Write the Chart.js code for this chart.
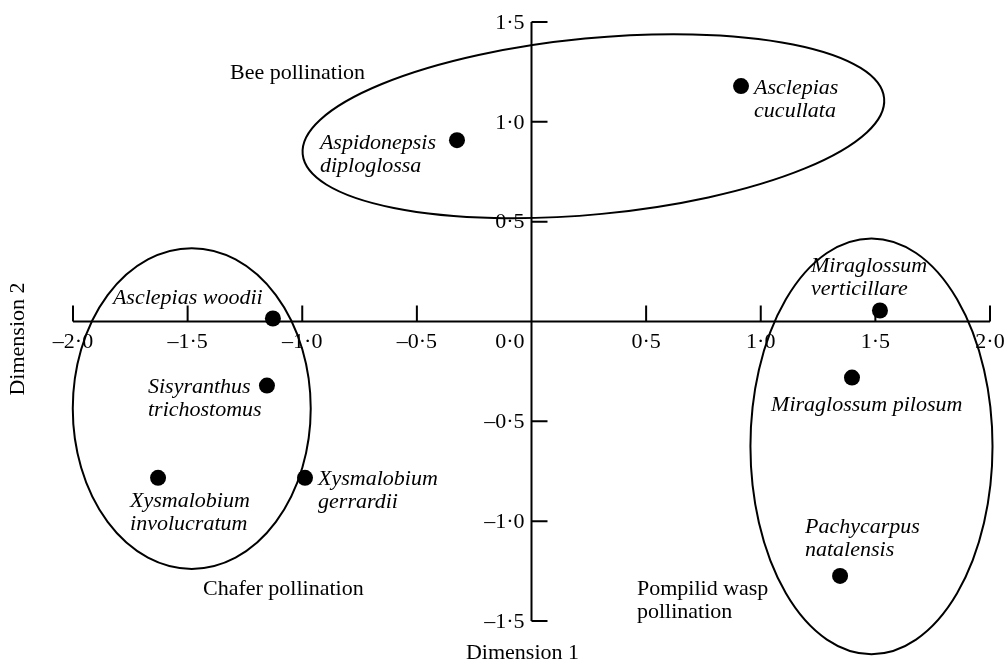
<!DOCTYPE html>
<html>
<head>
<meta charset="utf-8">
<script src="https://cdn.jsdelivr.net/npm/chart.js@4"></script>
<style>
  html, body { margin: 0; padding: 0; background: #fff; }
  #wrap { width: 1006px; height: 661px; }
</style>
</head>
<body>
<div id="wrap"><canvas id="chart"></canvas></div>
<script>
// species scores on the two dimensions
const species = [
    "Aspidonepsis diploglossa", "Asclepias cucullata", "Asclepias woodii",
    "Sisyranthus trichostomus", "Xysmalobium involucratum", "Xysmalobium gerrardii",
    "Miraglossum verticillare", "Miraglossum pilosum", "Pachycarpus natalensis"
];
const dim1 = [-0.325, 0.914, -1.128, -1.154, -1.629, -0.988, 1.520, 1.398, 1.346];
const dim2 = [0.908, 1.179, 0.015, -0.321, -0.783, -0.783, 0.055, -0.281, -1.274];

const xTicks = [-2, -1.5, -1, -0.5, 0, 0.5, 1, 1.5, 2];
const xTickLabels = ["–2·0", "–1·5", "–1·0", "–0·5", "0·0", "0·5", "1·0", "1·5", "2·0"];
const yTicks = [1.5, 1, 0.5, -0.5, -1, -1.5];
const yTickLabels = ["1·5", "1·0", "0·5", "–0·5", "–1·0", "–1·5"];

// pollination groups: centre, radii (data units), tilt in degrees
const groupNames = ["Bee", "Chafer", "Pompilid wasp"];
const groupCx = [0.270, -1.482, 1.483];
const groupCy = [0.978, -0.436, -0.625];
const groupRx = [1.274, 0.519, 0.528];
const groupRy = [0.441, 0.803, 1.041];
const groupTilt = [5.5, 0, 0];

// text annotations anchored in data units (left edge, first line middle)
const notes = [
    { lines: ["Aspidonepsis", "diploglossa"], x: -0.923, y: 0.893, italic: true },
    { lines: ["Asclepias", "cucullata"], x: 0.971, y: 1.169, italic: true },
    { lines: ["Asclepias woodii"], x: -1.826, y: 0.115, italic: true },
    { lines: ["Sisyranthus", "trichostomus"], x: -1.673, y: -0.331, italic: true },
    { lines: ["Xysmalobium", "involucratum"], x: -1.751, y: -0.898, italic: true },
    { lines: ["Xysmalobium", "gerrardii"], x: -0.931, y: -0.788, italic: true },
    { lines: ["Miraglossum", "verticillare"], x: 1.219, y: 0.276, italic: true },
    { lines: ["Miraglossum pilosum"], x: 1.045, y: -0.421, italic: true },
    { lines: ["Pachycarpus", "natalensis"], x: 1.193, y: -1.028, italic: true },
    { lines: ["Bee pollination"], x: -1.315, y: 1.244, italic: false },
    { lines: ["Chafer pollination"], x: -1.433, y: -1.340, italic: false },
    { lines: ["Pompilid wasp", "pollination"], x: 0.460, y: -1.340, italic: false }
];

const FONT = "'Liberation Serif', 'Times New Roman', serif";

const drawExtras = {
    id: "drawExtras",
    beforeDatasetsDraw(chart) {
        const ctx = chart.ctx;
        const xs = chart.scales.x, ys = chart.scales.y;
        const x0 = xs.getPixelForValue(0), y0 = ys.getPixelForValue(0);
        const ux = Math.abs(xs.getPixelForValue(1) - x0);
        const uy = Math.abs(ys.getPixelForValue(1) - y0);
        ctx.save();
        ctx.strokeStyle = "#000";
        ctx.lineWidth = 2;

        // group ellipses
        for (let i = 0; i < groupNames.length; i++) {
            ctx.beginPath();
            ctx.ellipse(xs.getPixelForValue(groupCx[i]), ys.getPixelForValue(groupCy[i]),
                groupRx[i] * ux, groupRy[i] * uy, -groupTilt[i] * Math.PI / 180, 0, Math.PI * 2);
            ctx.stroke();
        }

        // x axis through y = 0, ticks pointing up
        const xl = xs.getPixelForValue(xTicks[0]);
        const xr = xs.getPixelForValue(xTicks[xTicks.length - 1]);
        ctx.beginPath();
        ctx.moveTo(xl, y0);
        ctx.lineTo(xr, y0);
        xTicks.forEach((t) => {
            if (t === 0) return;
            const px = xs.getPixelForValue(t);
            ctx.moveTo(px, y0);
            ctx.lineTo(px, y0 - 16);
        });
        // y axis through x = 0, ticks pointing right
        const yt = ys.getPixelForValue(yTicks[0]);
        const yb = ys.getPixelForValue(yTicks[yTicks.length - 1]);
        ctx.moveTo(x0, yt);
        ctx.lineTo(x0, yb);
        yTicks.forEach((t) => {
            const py = ys.getPixelForValue(t);
            ctx.moveTo(x0, py);
            ctx.lineTo(x0 + 16, py);
        });
        ctx.stroke();

        ctx.fillStyle = "#000";
        ctx.font = "22px " + FONT;
        ctx.textBaseline = "middle";
        xTicks.forEach((t, i) => {
            if (t === 0) {
                ctx.textAlign = "right";
                ctx.fillText(xTickLabels[i], x0 - 7, y0 + 21);
            } else {
                ctx.textAlign = "center";
                ctx.fillText(xTickLabels[i], xs.getPixelForValue(t), y0 + 21);
            }
        });
        ctx.textAlign = "right";
        yTicks.forEach((t, i) => {
            ctx.fillText(yTickLabels[i], x0 - 7, ys.getPixelForValue(t) + 1);
        });

        // axis titles
        ctx.textAlign = "center";
        ctx.fillText("Dimension 1", x0 - 9, chart.chartArea.bottom + 32);
        ctx.save();
        ctx.translate(18, 339);
        ctx.rotate(-Math.PI / 2);
        ctx.fillText("Dimension 2", 0, 0);
        ctx.restore();

        // annotations
        ctx.textAlign = "left";
        notes.forEach((n) => {
            ctx.font = (n.italic ? "italic " : "") + "22px " + FONT;
            const px = xs.getPixelForValue(n.x), py = ys.getPixelForValue(n.y);
            n.lines.forEach((line, k) => ctx.fillText(line, px, py + k * 23));
        });
        ctx.restore();
    }
};

new Chart(document.getElementById("chart"), {
    type: "scatter",
    data: {
        datasets: [{
            label: "Species",
            data: dim1.map((x, i) => ({ x: x, y: dim2[i], name: species[i] })),
            pointRadius: 8,
            pointHoverRadius: 8,
            backgroundColor: "#000",
            borderColor: "#000",
            borderWidth: 0
        }]
    },
    options: {
        responsive: true,
        maintainAspectRatio: false,
        animation: false,
        layout: { padding: { left: 73, right: 16, top: 22, bottom: 40 } },
        plugins: { legend: { display: false }, tooltip: { enabled: false } },
        scales: {
            x: { type: "linear", min: -2, max: 2, display: false },
            y: { type: "linear", min: -1.5, max: 1.5, display: false }
        }
    },
    plugins: [drawExtras]
});
</script>
</body>
</html>
